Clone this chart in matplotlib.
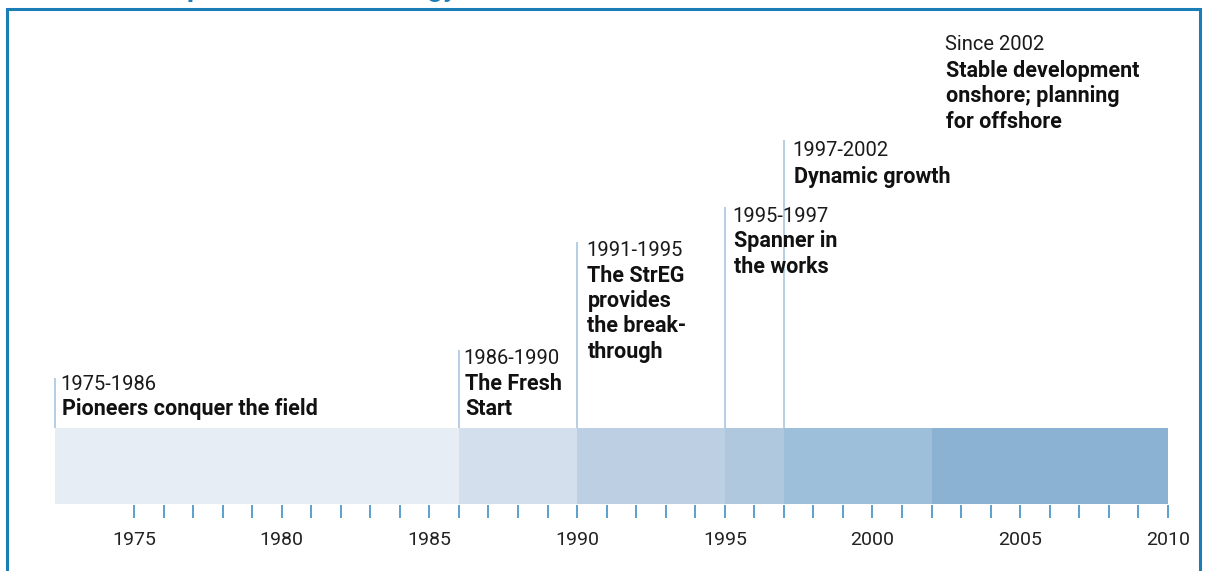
import matplotlib.pyplot as plt
from matplotlib.patches import Rectangle

# phases of the timeline
starts = [1972.33, 1986, 1990, 1995, 1997, 2002]
ends = [1986, 1990, 1995, 1997, 2002, 2010]
colors = ['#e6edf5', '#d3dfec', '#bccfe3', '#b0c8de', '#9ebfda', '#8bb2d3']
periods = ['1975-1986', '1986-1990', '1991-1995', '1995-1997', '1997-2002', 'Since 2002']
titles = [
    ['Pioneers conquer the field'],
    ['The Fresh', 'Start'],
    ['The StrEG', 'provides', 'the break-', 'through'],
    ['Spanner in', 'the works'],
    ['Dynamic growth'],
    ['Stable development', 'onshore; planning', 'for offshore'],
]
label_top = [384, 358, 250, 216, 151, 45]      # y of the period line (px)
line_top = [378, 350, 242, 207, 140, None]
text_x = [1972.5, 1986.15, 1990.3, 1995.25, 1997.3, 2002.45]
year_ticks = list(range(1975, 2011))
year_labels = [1975, 1980, 1985, 1990, 1995, 2000, 2005, 2010]

plt.rcParams['font.family'] = ['Roboto', 'DejaVu Sans']

W, H = 1208, 571
fig = plt.figure(figsize=(W / 100, H / 100), dpi=100)
ax = fig.add_axes([0, 0, 1, 1])
px_per_year = 29.54
x0 = 1975 - 134 / px_per_year
ax.set_xlim(x0, x0 + W / px_per_year)
ax.set_ylim(H, 0)
ax.axis('off')

# frame
fig.patches.append(Rectangle((7 / W, -0.1), (1200 - 7) / W, 1.1 - 9 / H,
                             transform=fig.transFigure, fill=False,
                             edgecolor='#1b7db5', linewidth=2.2))
# title, cut off at the top edge as in the source
fig.text(50 / W, 1 + 4 / H, 'The development of wind energy', color='#1b7db5',
         fontsize=20, fontweight='bold', va='baseline', ha='left')

# bar segments
ax.barh(466, [e - s for s, e in zip(starts, ends)], left=starts, height=76,
        color=colors, edgecolor='none')

# ticks and labels
ax.vlines(year_ticks, 505, 518, color='#2f86c0', linewidth=1.1)
for y in year_labels:
    ax.text(y, 540, str(y), ha='center', va='center', fontsize=14, color='#222222')

# phase annotations
for i in range(len(starts)):
    if line_top[i] is not None:
        ax.vlines(starts[i], line_top[i], 428, color='#a9c6e0', linewidth=1.2)
    ax.text(text_x[i], label_top[i], periods[i], ha='left', va='center',
            fontsize=14.5, color='#1a1a1a')
    for j, t in enumerate(titles[i]):
        ax.text(text_x[i] + 0.05, label_top[i] + 25.5 * (j + 1), t, ha='left',
                va='center', fontsize=15.5, fontweight='bold', color='#111111')

fig.savefig('out.png', dpi=100)
